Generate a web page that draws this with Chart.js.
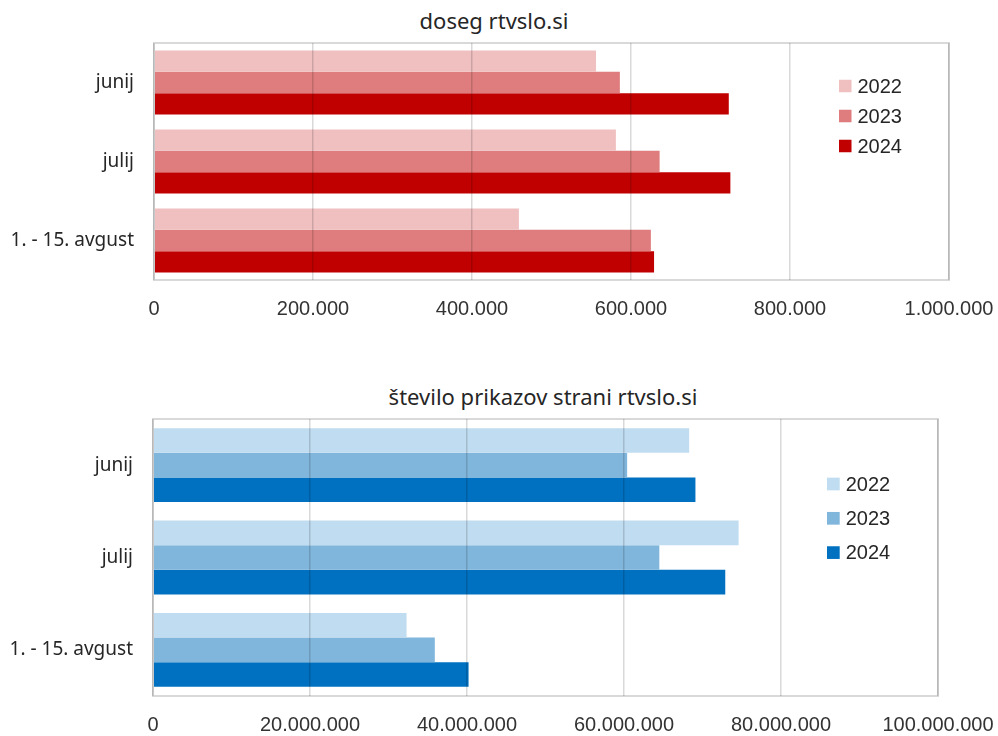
<!DOCTYPE html>
<html>
<head>
<meta charset="utf-8">
<script src="https://cdn.jsdelivr.net/npm/chart.js@4.4.1/dist/chart.umd.min.js"></script>
<style>
  html, body { margin: 0; padding: 0; background: #fff; }
  body { width: 998px; height: 736px; position: relative; overflow: hidden; }
  .naslov { position: absolute; font-family: "Noto Sans"; font-size: 22px; line-height: 28px; color: #262626; white-space: nowrap; transform: translateX(-50%); }
  .okvir { position: absolute; left: 0; width: 998px; }
</style>
</head>
<body>
<div class="naslov" style="left:494px; top:6px">doseg rtvslo.si</div>
<div class="okvir" style="top:0; height:330px"><canvas id="doseg"></canvas></div>
<div class="naslov" style="left:543px; top:382px">število prikazov strani rtvslo.si</div>
<div class="okvir" style="top:370px; height:366px"><canvas id="prikazi"></canvas></div>

<script>
// podatki
const meseci = ["junij", "julij", "1. - 15. avgust"];
const leta = ["2022", "2023", "2024"];

const doseg2022 = [556000, 581000, 459000];
const doseg2023 = [586000, 636000, 625000];
const doseg2024 = [723000, 725000, 629000];

const prikazi2022 = [68300000, 74600000, 32300000];
const prikazi2023 = [60400000, 64500000, 35900000];
const prikazi2024 = [69100000, 72900000, 40200000];

const dosegMax = 1000000, dosegKorak = 200000;
const prikaziMax = 100000000, prikaziKorak = 20000000;

const rdece = ["#F0C0C1", "#DF7D7E", "#C00000"];
const modre = ["#C0DCF0", "#80B6DC", "#0070C0"];

function pike(v) {
  return String(v).replace(/\B(?=(\d{3})+(?!\d))/g, "."); // 1.000.000
}

// okvir okoli grafa
const okvirPlugin = {
  id: "okvirPlugin",
  afterDatasetsDraw(chart) {
    const a = chart.chartArea, ctx = chart.ctx;
    ctx.save();
    ctx.strokeStyle = "#D9D9D9";
    ctx.lineWidth = 2;
    ctx.strokeRect(a.left, a.top, a.right - a.left, a.bottom - a.top);
    ctx.restore();
  }
};

// legenda znotraj grafa
const legendaNotri = {
  id: "legendaNotri",
  afterDraw(chart, args, o) {
    const ctx = chart.ctx;
    ctx.save();
    ctx.font = '20px "Liberation Sans"';
    ctx.textBaseline = "middle";
    chart.data.datasets.forEach((ds, i) => {
      const y = o.y + i * o.razmik;
      ctx.fillStyle = ds.backgroundColor;
      ctx.fillRect(o.x, y - o.kvadrat / 2, o.kvadrat, o.kvadrat);
      ctx.fillStyle = "#262626";
      ctx.fillText(ds.label, o.x + o.kvadrat + 6, y + 1);
    });
    ctx.restore();
  }
};

function narisi(id, serije, barve, max, korak, n) {
  const ctx = document.getElementById(id).getContext("2d");
  return new Chart(ctx, {
    type: "bar",
    data: {
      labels: meseci,
      datasets: serije.map((s, i) => ({
        label: leta[i],
        data: s,
        backgroundColor: barve[i],
        borderWidth: 0,
        categoryPercentage: n.kat,
        barPercentage: 1
      }))
    },
    options: {
      indexAxis: "y",
      responsive: true,
      maintainAspectRatio: false,
      animation: false,
      layout: { padding: { top: n.zgoraj, right: n.desno, left: 0, bottom: 0 } },
      scales: {
        x: {
          min: 0,
          max: max,
          afterFit: s => { s.height = n.xVisina; s.paddingLeft = 0; s.paddingRight = 0; },
          grid: { color: "rgba(0,0,0,0.15)", lineWidth: 1.5, drawTicks: false, z: 1 },
          border: { display: false },
          ticks: {
            stepSize: korak,
            autoSkip: false,
            maxRotation: 0,
            padding: 17,
            color: "#333",
            font: { family: "Liberation Sans", size: 20 },
            callback: v => pike(v)
          }
        },
        y: {
          afterFit: s => { s.width = n.ySirina; s.paddingTop = 0; s.paddingBottom = 0; },
          grid: { display: false, drawTicks: false },
          border: { display: false },
          ticks: {
            padding: 20,
            color: "#262626",
            font: { family: "Noto Sans", size: 19 }
          }
        }
      },
      plugins: {
        legend: { display: false },
        title: { display: false },
        tooltip: { enabled: false },
        legendaNotri: n.legenda
      }
    },
    plugins: [okvirPlugin, legendaNotri]
  });
}

narisi("doseg", [doseg2022, doseg2023, doseg2024], rdece, dosegMax, dosegKorak, {
  kat: 0.81, zgoraj: 43, desno: 49, xVisina: 50, ySirina: 154,
  legenda: { x: 839, y: 86, razmik: 30, kvadrat: 12.5 }
});

narisi("prikazi", [prikazi2022, prikazi2023, prikazi2024], modre, prikaziMax, prikaziKorak, {
  kat: 0.8, zgoraj: 49, desno: 60, xVisina: 40, ySirina: 153,
  legenda: { x: 827, y: 114, razmik: 34.3, kvadrat: 12.7 }
});
</script>
</body>
</html>
